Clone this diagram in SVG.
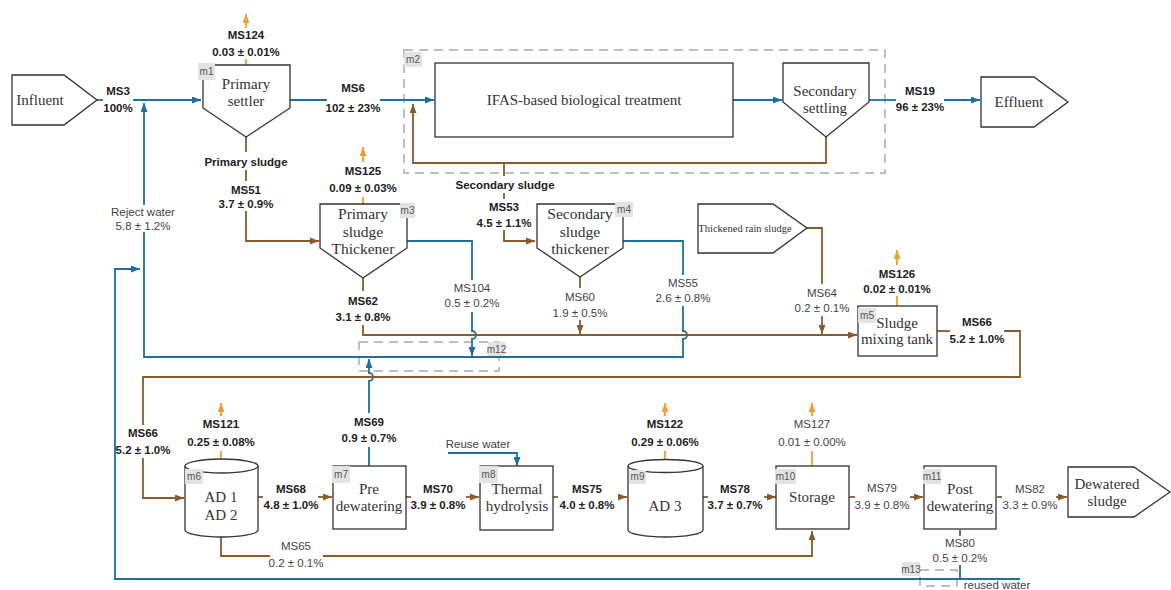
<svg xmlns="http://www.w3.org/2000/svg" width="1171" height="590" viewBox="0 0 1171 590">
<defs>
<marker id="ab" markerWidth="9" markerHeight="7" refX="9" refY="3.5" orient="auto" markerUnits="userSpaceOnUse"><path d="M0,0 L9,3.5 L0,7 z" fill="#1e6f9f"/></marker>
<marker id="abr" markerWidth="9" markerHeight="7" refX="9" refY="3.5" orient="auto" markerUnits="userSpaceOnUse"><path d="M0,0 L9,3.5 L0,7 z" fill="#8b5a2b"/></marker>
<marker id="ao" markerWidth="9" markerHeight="7" refX="9" refY="3.5" orient="auto" markerUnits="userSpaceOnUse"><path d="M0,0 L9,3.5 L0,7 z" fill="#f39c35"/></marker>
</defs>
<style>
.b{stroke:#1e6f9f;stroke-width:1.8;fill:none}
.br{stroke:#8b5a2b;stroke-width:1.8;fill:none}
.o{stroke:#f39c35;stroke-width:1.8;fill:none}
.nd{fill:#fff;stroke:#333;stroke-width:1.3}
.nt{font-family:"Liberation Serif",serif;font-size:15px;fill:#333;text-anchor:middle}
.lb{font-family:"Liberation Sans",Arial,sans-serif;font-size:11.5px;font-weight:bold;fill:#222;text-anchor:middle}
.lr{font-family:"Liberation Sans",Arial,sans-serif;font-size:11.5px;fill:#444;text-anchor:middle}
.tg{fill:#e3e3e3}
.tt{font-family:"Liberation Sans",Arial,sans-serif;font-size:10px;fill:#555;text-anchor:middle}
.ds{fill:none;stroke:#aaa;stroke-width:1.5;stroke-dasharray:9 6}
</style>
<rect width="1171" height="590" fill="#fff"/>

<g id="m2-group">
<rect class="ds" x="404" y="50" width="481" height="123"/>
<rect class="tg" x="404" y="52" width="18" height="15"/><text class="tt" x="413" y="63">m2</text>
</g>
<g id="m12-group">
<rect class="ds" x="359" y="342" width="140" height="29"/>
<rect class="tg" x="488" y="342" width="17" height="15"/><text class="tt" x="496.5" y="353">m12</text>
</g>
<g id="m13-group">
<rect class="ds" x="920" y="570" width="37" height="16"/>
<rect class="tg" x="902" y="562" width="18" height="14"/><text class="tt" x="911" y="573">m13</text>
</g>

<g id="connectors">
<!-- blue -->
<path class="b" d="M97,100 H103"/>
<path class="b" d="M133,100 H201" marker-end="url(#ab)"/>
<path class="b" d="M290,100 H327"/>
<path class="b" d="M380,100 H434" marker-end="url(#ab)"/>
<path class="b" d="M733,100 H782" marker-end="url(#ab)"/>
<path class="b" d="M869,100 H896"/>
<path class="b" d="M944,100 H980" marker-end="url(#ab)"/>
<path class="b" d="M623,241 H683 V275"/>
<path class="b" d="M683,306 V331 A4,4 0 0 1 683,339 V357 H144 V232"/>
<path class="b" d="M144,205 V103" marker-end="url(#ab)"/>
<path class="b" d="M407,241 H472 V280"/>
<path class="b" d="M472,312 V331 A4,4 0 0 1 472,339 V356" marker-end="url(#ab)"/>
<path class="b" d="M960,530 V536"/>
<path class="b" d="M960,565 V579"/>
<path class="b" d="M1020,579 H115 V269 H140" marker-end="url(#ab)"/>
<path class="b" d="M369,466 V447"/>
<path class="b" d="M369,413 V381 A4,4 0 0 0 369,373 V359" marker-end="url(#ab)"/>
<path class="b" d="M448,453 H517 V466" marker-end="url(#ab)"/>
<!-- brown -->
<path class="br" d="M826,137 V163 H413 V104" marker-end="url(#abr)"/>
<path class="br" d="M504,163 V176"/>
<path class="br" d="M504,193 V199"/>
<path class="br" d="M504,230 V241 H535" marker-end="url(#abr)"/>
<path class="br" d="M246,137 V152"/>
<path class="br" d="M246,170 V181"/>
<path class="br" d="M246,211 V241 H319" marker-end="url(#abr)"/>
<path class="br" d="M363,278 V291"/>
<path class="br" d="M363,325 V335 H857" marker-end="url(#abr)"/>
<path class="br" d="M580,277 V288"/>
<path class="br" d="M580,320 V334" marker-end="url(#abr)"/>
<path class="br" d="M807,228 H822 V284"/>
<path class="br" d="M822,316 V334" marker-end="url(#abr)"/>
<path class="br" d="M937,331 H950"/>
<path class="br" d="M1004,331 H1020 V377 H143 V425"/>
<path class="br" d="M143,458 V498 H184" marker-end="url(#abr)"/>
<path class="br" d="M258,497 H263"/>
<path class="br" d="M318,497 H332" marker-end="url(#abr)"/>
<path class="br" d="M406,497 H411"/>
<path class="br" d="M466,497 H479" marker-end="url(#abr)"/>
<path class="br" d="M553,497 H558"/>
<path class="br" d="M618,497 H627" marker-end="url(#abr)"/>
<path class="br" d="M703,497 H708"/>
<path class="br" d="M764,497 H776" marker-end="url(#abr)"/>
<path class="br" d="M849,497 H855"/>
<path class="br" d="M910,497 H923" marker-end="url(#abr)"/>
<path class="br" d="M997,497 H1002"/>
<path class="br" d="M1056,497 H1067" marker-end="url(#abr)"/>
<path class="br" d="M221,537 V556 H270"/>
<path class="br" d="M323,556 H812 V531" marker-end="url(#abr)"/>
<!-- orange -->
<path class="o" d="M246,65 V59"/>
<path class="o" d="M246,28 V14" marker-end="url(#ao)"/>
<path class="o" d="M363,204 V197"/>
<path class="o" d="M363,162 V147" marker-end="url(#ao)"/>
<path class="o" d="M897,306 V296"/>
<path class="o" d="M897,265 V250" marker-end="url(#ao)"/>
<path class="o" d="M221,459 V451"/>
<path class="o" d="M221,416 V403" marker-end="url(#ao)"/>
<path class="o" d="M665,460 V451"/>
<path class="o" d="M665,416 V403" marker-end="url(#ao)"/>
<path class="o" d="M812,466 V451"/>
<path class="o" d="M812,416 V403" marker-end="url(#ao)"/>
</g>

<g id="influent">
<polygon class="nd" points="12,75 64,75 97,100 64,125 12,125"/>
<text class="nt" x="40" y="105">Influent</text>
</g>
<g id="m1">
<polygon class="nd" points="203,65 290,65 290,108 246,137 203,108"/>
<text class="nt" x="246" y="89">Primary</text>
<text class="nt" x="246" y="106">settler</text>
<rect class="tg" x="198" y="63" width="17" height="17"/><text class="tt" x="206.5" y="75">m1</text>
</g>
<g id="ifas">
<rect class="nd" x="435" y="63" width="298" height="74"/>
<text class="nt" x="584" y="105">IFAS-based biological treatment</text>
</g>
<g id="secondary-settling">
<polygon class="nd" points="783,63 869,63 869,102 826,137 783,102"/>
<text class="nt" x="825" y="96">Secondary</text>
<text class="nt" x="825" y="113">settling</text>
</g>
<g id="effluent">
<polygon class="nd" points="981,77 1034,77 1068,102 1034,127 981,127"/>
<text class="nt" x="1019" y="107">Effluent</text>
</g>
<g id="m3">
<polygon class="nd" points="320,204 407,204 407,248 363,278 320,248"/>
<text class="nt" x="363" y="219" style="font-size:15.5px">Primary</text>
<text class="nt" x="363" y="237" style="font-size:15.5px">sludge</text>
<text class="nt" x="363" y="254" style="font-size:15.5px">Thickener</text>
<rect class="tg" x="400" y="203" width="15" height="15"/><text class="tt" x="407.5" y="214">m3</text>
</g>
<g id="m4">
<polygon class="nd" points="537,204 623,204 623,248 580,277 537,248"/>
<text class="nt" x="580" y="219" style="font-size:15.5px">Secondary</text>
<text class="nt" x="580" y="237" style="font-size:15.5px">sludge</text>
<text class="nt" x="580" y="254" style="font-size:15.5px">thickener</text>
<rect class="tg" x="615" y="202" width="18" height="15"/><text class="tt" x="624" y="213">m4</text>
</g>
<g id="thickened-rain-sludge">
<polygon class="nd" points="698,204 773,204 807,228 773,253 698,253"/>
<text class="nt" x="745" y="232" style="font-size:10.5px">Thickened rain sludge</text>
</g>
<g id="m5">
<rect class="nd" x="858" y="306" width="79" height="50"/>
<text class="nt" x="897" y="328">Sludge</text>
<text class="nt" x="897" y="344">mixing tank</text>
<rect class="tg" x="858" y="308" width="18" height="15"/><text class="tt" x="867" y="319">m5</text>
</g>
<g id="m6">
<path class="nd" d="M185,466 V530 A36.5,7 0 0 0 258,530 V466"/>
<ellipse class="nd" cx="221.5" cy="466" rx="36.5" ry="7"/>
<text class="nt" x="221" y="502">AD 1</text>
<text class="nt" x="221" y="520">AD 2</text>
<rect class="tg" x="185" y="469" width="18" height="15"/><text class="tt" x="194" y="480">m6</text>
</g>
<g id="m7">
<rect class="nd" x="333" y="466" width="73" height="63"/>
<text class="nt" x="369" y="494">Pre</text>
<text class="nt" x="369" y="511">dewatering</text>
<rect class="tg" x="332" y="466" width="18" height="17"/><text class="tt" x="341" y="478">m7</text>
</g>
<g id="m8">
<rect class="nd" x="480" y="466" width="73" height="64"/>
<text class="nt" x="517" y="494">Thermal</text>
<text class="nt" x="517" y="511">hydrolysis</text>
<rect class="tg" x="479" y="466" width="19" height="17"/><text class="tt" x="488.5" y="478">m8</text>
</g>
<g id="m9">
<path class="nd" d="M628,466 V530 A37.5,7 0 0 0 703,530 V466"/>
<ellipse class="nd" cx="665.5" cy="466" rx="37.5" ry="6.5"/>
<text class="nt" x="665" y="511">AD 3</text>
<rect class="tg" x="629" y="470" width="17" height="14"/><text class="tt" x="637.5" y="480">m9</text>
</g>
<g id="m10">
<rect class="nd" x="776" y="466" width="73" height="63"/>
<text class="nt" x="812" y="502">Storage</text>
<rect class="tg" x="775" y="469" width="21" height="15"/><text class="tt" x="785.5" y="480">m10</text>
</g>
<g id="m11">
<rect class="nd" x="924" y="466" width="72" height="63"/>
<text class="nt" x="960" y="494">Post</text>
<text class="nt" x="960" y="511">dewatering</text>
<rect class="tg" x="923" y="469" width="18" height="15"/><text class="tt" x="932" y="480">m11</text>
</g>
<g id="dewatered-sludge">
<polygon class="nd" points="1068,467 1134,467 1170,492 1134,517 1068,517"/>
<text class="nt" x="1107" y="489">Dewatered</text>
<text class="nt" x="1107" y="506">sludge</text>
</g>

<g id="labels">
<text class="lb" x="118" y="95">MS3</text><text class="lb" x="118" y="112">100%</text>
<text class="lb" x="353" y="92">MS6</text><text class="lb" x="353" y="112">102 ± 23%</text>
<text class="lb" x="920" y="95">MS19</text><text class="lb" x="920" y="111">96 ± 23%</text>
<text class="lb" x="246" y="39">MS124</text><text class="lb" x="246" y="56">0.03 ± 0.01%</text>
<text class="lb" x="246" y="166">Primary sludge</text>
<text class="lb" x="246" y="194">MS51</text><text class="lb" x="246" y="208">3.7 ± 0.9%</text>
<text class="lb" x="363" y="175">MS125</text><text class="lb" x="363" y="192">0.09 ± 0.03%</text>
<text class="lb" x="505" y="189">Secondary sludge</text>
<text class="lb" x="504" y="211">MS53</text><text class="lb" x="504" y="227">4.5 ± 1.1%</text>
<text class="lr" x="143" y="216">Reject water</text><text class="lr" x="143" y="230">5.8 ± 1.2%</text>
<text class="lb" x="363" y="305">MS62</text><text class="lb" x="363" y="321">3.1 ± 0.8%</text>
<text class="lr" x="472" y="292">MS104</text><text class="lr" x="472" y="307">0.5 ± 0.2%</text>
<text class="lr" x="580" y="301">MS60</text><text class="lr" x="580" y="317">1.9 ± 0.5%</text>
<text class="lr" x="683" y="287">MS55</text><text class="lr" x="683" y="302">2.6 ± 0.8%</text>
<text class="lr" x="822" y="297">MS64</text><text class="lr" x="822" y="312">0.2 ± 0.1%</text>
<text class="lb" x="897" y="278">MS126</text><text class="lb" x="897" y="293">0.02 ± 0.01%</text>
<text class="lb" x="977" y="326">MS66</text><text class="lb" x="977" y="343">5.2 ± 1.0%</text>
<text class="lb" x="143" y="437">MS66</text><text class="lb" x="143" y="454">5.2 ± 1.0%</text>
<text class="lb" x="221" y="428">MS121</text><text class="lb" x="221" y="446">0.25 ± 0.08%</text>
<text class="lb" x="291" y="493">MS68</text><text class="lb" x="291" y="509">4.8 ± 1.0%</text>
<text class="lb" x="369" y="426">MS69</text><text class="lb" x="369" y="442">0.9 ± 0.7%</text>
<text class="lb" x="438" y="493">MS70</text><text class="lb" x="438" y="509">3.9 ± 0.8%</text>
<text class="lr" x="478" y="448">Reuse water</text>
<text class="lb" x="587" y="493">MS75</text><text class="lb" x="587" y="509">4.0 ± 0.8%</text>
<text class="lb" x="665" y="428">MS122</text><text class="lb" x="665" y="446">0.29 ± 0.06%</text>
<text class="lb" x="735" y="493">MS78</text><text class="lb" x="735" y="509">3.7 ± 0.7%</text>
<text class="lr" x="812" y="428">MS127</text><text class="lr" x="812" y="446">0.01 ± 0.00%</text>
<text class="lr" x="882" y="492">MS79</text><text class="lr" x="882" y="509">3.9 ± 0.8%</text>
<text class="lr" x="1030" y="493">MS82</text><text class="lr" x="1030" y="509">3.3 ± 0.9%</text>
<text class="lr" x="960" y="547">MS80</text><text class="lr" x="960" y="562">0.5 ± 0.2%</text>
<text class="lr" x="296" y="550">MS65</text><text class="lr" x="296" y="567">0.2 ± 0.1%</text>
<text class="lr" x="997" y="589">reused water</text>
</g>
</svg>
